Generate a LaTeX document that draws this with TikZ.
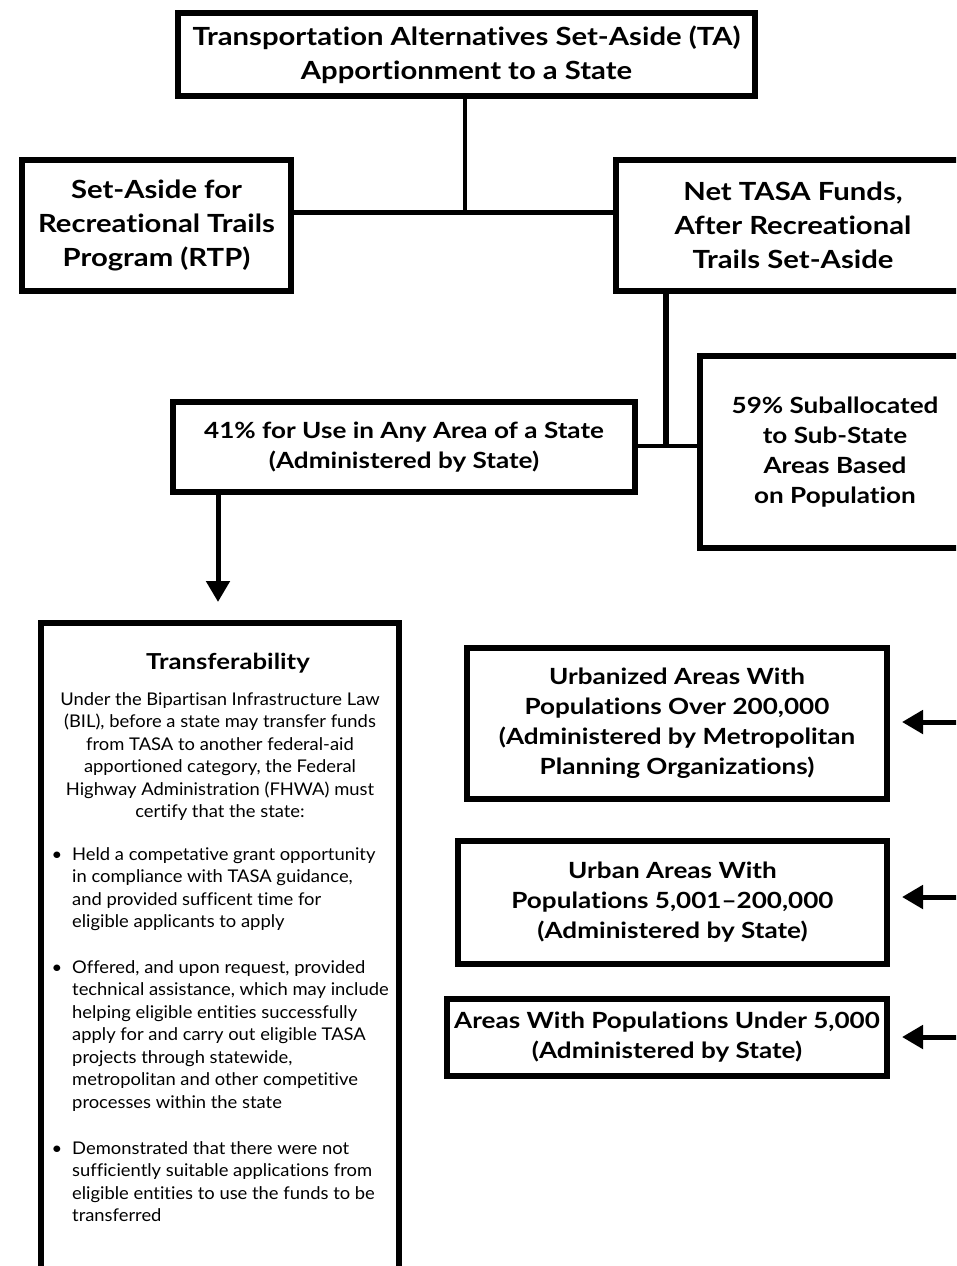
\documentclass[tikz,border=0pt]{standalone}
\usepackage{fontspec}
\setmainfont{Lato}[FakeStretch=1.05, Ligatures={TeX,NoCommon}]
\newfontfamily\headfont{Lato}[FakeStretch=1.17, Ligatures={TeX,NoCommon}]
\usetikzlibrary{arrows.meta}

\begin{document}
\begin{tikzpicture}[
    x=1pt,
    y=-1pt,
    fundbox/.style={draw, line width=6pt, align=center, inner sep=0pt,
        font=\headfont\bfseries\fontsize{22.3}{30}\selectfont},
    bigfund/.style={fundbox, font=\headfont\bfseries\fontsize{25}{34}\selectfont},
    link/.style={line width=5pt},
    feed/.style={line width=5pt, -{Triangle[length=21pt, width=23pt]}},
    bodytext/.style={inner sep=0pt, font=\fontsize{17.5}{22.5}\selectfont},
    ]

\useasboundingbox (0,0) rectangle (956,1266);
\clip (0,0) rectangle (956,1266);

% Top of the tree
\node[bigfund, minimum width=577pt, minimum height=83pt]
    (apport) at (466.5,54.5)
    {Transportation Alternatives Set-Aside (TA)\\Apportionment to a State};

% Second row
\node[bigfund, minimum width=269pt, minimum height=131pt]
    (rtp) at (156.5,225.5)
    {Set-Aside for\\Recreational Trails\\Program (RTP)};
\node[bigfund, minimum width=354pt, minimum height=131pt]
    (nettasa) at (793,225.5)
    {Net TASA Funds,\\After Recreational\\Trails Set-Aside};

% Split of the net funds
\node[fundbox, minimum width=462pt, minimum height=90pt]
    (anyarea) at (404,447)
    {41\% for Use in Any Area of a State\\(Administered by State)};
\node[fundbox, minimum width=270pt, minimum height=192pt]
    (suballoc) at (835,452)
    {59\% Suballocated\\to Sub-State\\Areas Based\\on Population};

% Population groups
\node[fundbox, minimum width=420pt, minimum height=151pt]
    (urbanized) at (677,723.5)
    {Urbanized Areas With\\Populations Over 200,000\\(Administered by Metropolitan\\Planning Organizations)};
\node[fundbox, minimum width=429pt, minimum height=123pt]
    (urban) at (672.5,902.5)
    {Urban Areas With\\Populations 5,001–200,000\\(Administered by State)};
\node[fundbox, minimum width=440pt, minimum height=77pt]
    (rural) at (667,1037.5)
    {Areas With Populations Under 5,000\\(Administered by State)};

% Transferability panel
\node[draw, line width=6pt, minimum width=358pt, minimum height=700pt]
    (transfer) at (220,973) {};
\node[bodytext, font=\headfont\bfseries\fontsize{22}{26}\selectfont]
    (transtitle) at (228,663) {Transferability};
\node[bodytext, align=center, anchor=north]
    (transintro) at (220,692)
    {Under the Bipartisan Infrastructure Law\\(BIL), before a state may transfer funds\\from TASA to another federal-aid\\apportioned category, the Federal\\Highway Administration (FHWA) must\\certify that the state:};
\node[bodytext, align=left, anchor=north west]
    (itemgrant) at (72,847)
    {\llap{\textbullet\hspace{10pt}}Held a competative grant opportunity\\in compliance with TASA guidance,\\and provided sufficent time for\\eligible applicants to apply};
\node[bodytext, align=left, anchor=north west]
    (itemhelp) at (72,960)
    {\llap{\textbullet\hspace{10pt}}Offered, and upon request, provided\\technical assistance, which may include\\helping eligible entities successfully\\apply for and carry out eligible TASA\\projects through statewide,\\metropolitan and other competitive\\processes within the state};
\node[bodytext, align=left, anchor=north west]
    (itemnone) at (72,1141)
    {\llap{\textbullet\hspace{10pt}}Demonstrated that there were not\\sufficiently suitable applications from\\eligible entities to use the funds to be\\transferred};

% Junction points
\coordinate (split) at (465,212);
\coordinate (join) at (666,446);
\coordinate (drop) at (218,602);
\coordinate (inurbanized) at (970,722);
\coordinate (inurban) at (970,897);
\coordinate (inrural) at (970,1037);

% Connectors
\draw[link, line width=4pt] (apport.south -| split) -- (split);
\draw[link] (rtp.east |- split) -- (nettasa.west |- split);
\draw[link, line width=6pt] (nettasa.south -| join) -- (join);
\draw[link, line width=4pt] (anyarea.east |- join) -- (suballoc.west |- join);
\draw[feed] (anyarea.south -| drop) -- (drop);
\draw[feed, shorten >=12pt] (inurbanized) -- (urbanized.east |- inurbanized);
\draw[feed, shorten >=12pt] (inurban) -- (urban.east |- inurban);
\draw[feed, shorten >=12pt] (inrural) -- (rural.east |- inrural);

\end{tikzpicture}
\end{document}
